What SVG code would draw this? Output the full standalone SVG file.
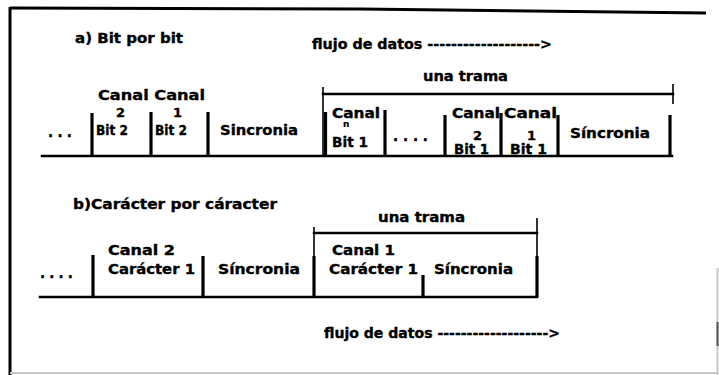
<svg xmlns="http://www.w3.org/2000/svg" width="719" height="375" viewBox="0 0 719 375">
<style>
  text { font-family: "DejaVu Sans", "Liberation Sans", sans-serif; font-weight: bold; font-size: 13.5px; fill: #000; stroke: #000; stroke-width: 0.35; }
  .sm { font-size: 9px; stroke-width: 0.2; }
  .dg { font-size: 13px; }
  .ln { stroke: #000; stroke-width: 2.5; fill: none; stroke-linecap: square; }
  .tk { stroke: #000; stroke-width: 3.2; fill: none; }
  .br { stroke: #000; stroke-width: 1.6; fill: none; }
  .fr { stroke: #000; stroke-width: 3; fill: none; }
  .faint { stroke: #c8c8c8; stroke-width: 2; fill: none; }
</style>
<rect width="719" height="375" fill="#fff"/>

<g id="frame">
  <line class="fr" x1="10" y1="7" x2="10" y2="375"/>
  <polyline class="fr" points="10,8 360,9 706,13"/>
  <line class="faint" x1="10" y1="373" x2="719" y2="373"/>
  <line class="faint" x1="717.5" y1="268" x2="717.5" y2="375"/>
  <line stroke="#555" stroke-width="2" x1="717.5" y1="322" x2="717.5" y2="346"/>
</g>

<g id="section-a">
  <text id="title-a" x="75" y="43" textLength="108" lengthAdjust="spacingAndGlyphs">a) Bit por bit</text>
  <text id="flujo-a" x="312" y="49" textLength="240" lengthAdjust="spacingAndGlyphs">flujo de datos -------------------&gt;</text>

  <g id="trama-a">
    <line class="br" x1="323" y1="87" x2="323" y2="156"/>
    <line class="ln" x1="323" y1="94" x2="673" y2="94"/>
    <line class="br" x1="673" y1="84" x2="673" y2="104"/>
    <text x="423" y="81" textLength="85" lengthAdjust="spacingAndGlyphs">una trama</text>
  </g>

  <g id="row-a">
    <line class="ln" x1="42" y1="156" x2="672" y2="156"/>
    <line class="tk" x1="92" y1="113" x2="92" y2="156"/>
    <line class="tk" x1="151" y1="112" x2="151" y2="156"/>
    <line class="tk" x1="208" y1="112" x2="208" y2="156"/>
    <line class="tk" x1="325.5" y1="112" x2="325.5" y2="156"/>
    <line class="tk" x1="385" y1="110" x2="385" y2="156"/>
    <line class="tk" x1="445" y1="115" x2="445" y2="156"/>
    <line class="tk" x1="501" y1="113" x2="501" y2="156"/>
    <line class="tk" x1="558" y1="115" x2="558" y2="156"/>
    <line class="tk" x1="670" y1="115" x2="670" y2="156"/>
  </g>

  <g id="cell-a-dots"><text x="48" y="137" textLength="24">...</text></g>
  <text id="canal-canal" x="98" y="100" textLength="107" lengthAdjust="spacingAndGlyphs">Canal Canal</text>
  <g id="cell-a-c2b2">
    <text class="dg" x="116" y="117">2</text>
    <text x="96" y="135" textLength="32" lengthAdjust="spacingAndGlyphs">Bit 2</text>
  </g>
  <g id="cell-a-c1b2">
    <text class="dg" x="173" y="117">1</text>
    <text x="155" y="135" textLength="32" lengthAdjust="spacingAndGlyphs">Bit 2</text>
  </g>
  <g id="cell-a-sync1"><text x="220" y="135" textLength="78" lengthAdjust="spacingAndGlyphs">Sincronia</text></g>
  <g id="cell-a-cnb1">
    <text x="332" y="118" textLength="48" lengthAdjust="spacingAndGlyphs">Canal</text>
    <text class="sm" x="343" y="127">n</text>
    <text x="332" y="147" textLength="36" lengthAdjust="spacingAndGlyphs">Bit 1</text>
  </g>
  <g id="cell-a-dots2"><text x="393" y="141" textLength="35">....</text></g>
  <g id="cell-a-c2b1">
    <text x="452" y="118" textLength="48" lengthAdjust="spacingAndGlyphs">Canal</text>
    <text class="dg" x="473" y="140">2</text>
    <text x="454" y="154" textLength="35" lengthAdjust="spacingAndGlyphs">Bit 1</text>
  </g>
  <g id="cell-a-c1b1">
    <text x="504" y="118" textLength="53" lengthAdjust="spacingAndGlyphs">Canal</text>
    <text class="dg" x="527" y="140">1</text>
    <text x="510" y="154" textLength="37" lengthAdjust="spacingAndGlyphs">Bit 1</text>
  </g>
  <g id="cell-a-sync2"><text x="570" y="138" textLength="80" lengthAdjust="spacingAndGlyphs">Síncronia</text></g>
</g>

<g id="section-b">
  <text id="title-b" x="73" y="209" textLength="204" lengthAdjust="spacingAndGlyphs">b)Carácter por cáracter</text>

  <g id="trama-b">
    <line class="br" x1="314" y1="227" x2="314" y2="297"/>
    <line class="ln" x1="314" y1="233" x2="537" y2="233"/>
    <line class="br" x1="537" y1="218" x2="537" y2="297"/>
    <text x="378" y="222" textLength="87" lengthAdjust="spacingAndGlyphs">una trama</text>
  </g>

  <g id="row-b">
    <line class="ln" x1="40" y1="297" x2="537" y2="297"/>
    <line class="tk" x1="93" y1="255" x2="93" y2="297"/>
    <line class="tk" x1="203" y1="256" x2="203" y2="297"/>
    <line class="tk" x1="314" y1="256" x2="314" y2="297"/>
    <line class="tk" x1="423" y1="275" x2="423" y2="297"/>
    <line class="tk" x1="537" y1="256" x2="537" y2="297"/>
  </g>

  <g id="cell-b-dots"><text x="40" y="278" textLength="33">....</text></g>
  <g id="cell-b-c2">
    <text x="108" y="255" textLength="67" lengthAdjust="spacingAndGlyphs">Canal 2</text>
    <text x="108" y="274" textLength="87" lengthAdjust="spacingAndGlyphs">Carácter 1</text>
  </g>
  <g id="cell-b-sync1"><text x="218" y="274" textLength="82" lengthAdjust="spacingAndGlyphs">Síncronia</text></g>
  <g id="cell-b-c1">
    <text x="332" y="255" textLength="63" lengthAdjust="spacingAndGlyphs">Canal 1</text>
    <text x="329" y="274" textLength="89" lengthAdjust="spacingAndGlyphs">Carácter 1</text>
  </g>
  <g id="cell-b-sync2"><text x="434" y="274" textLength="79" lengthAdjust="spacingAndGlyphs">Síncronia</text></g>
  <text id="flujo-b" x="324" y="338" textLength="236" lengthAdjust="spacingAndGlyphs">flujo de datos -------------------&gt;</text>
</g>
</svg>
